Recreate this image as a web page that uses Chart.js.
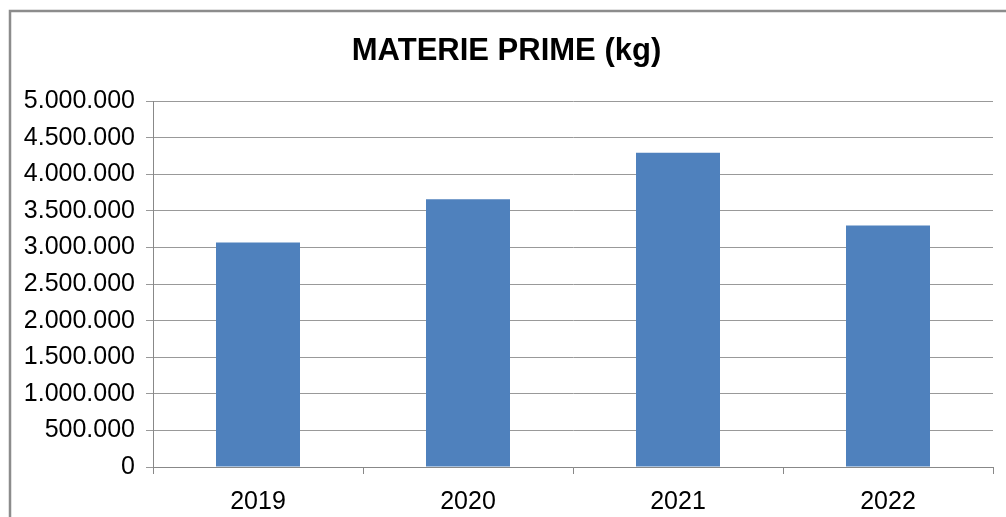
<!DOCTYPE html>
<html>
<head>
  <title>Materie prime</title>
  <script src="https://cdn.jsdelivr.net/npm/chart.js"></script>
  <style>
    body { margin: 0; background: #fff; }
    #wrap { width: 1006px; height: 517px; position: relative; }
  </style>
</head>
<body>
  <div id="wrap"><canvas id="chart"></canvas></div>

  <script>
    const years = ['2019', '2020', '2021', '2022'];
    const materiePrime = [3070000, 3660000, 4295000, 3300000];
    const yTicks = { min: 0, max: 5000000, step: 500000 };

    // thousands with dots, e.g. 5.000.000
    function dots(v) {
      return String(Math.round(v)).replace(/\B(?=(\d{3})+(?!\d))/g, '.');
    }

    // white background + grey frame on left/top like the original picture
    const frame = {
      id: 'frame',
      beforeDraw(chart) {
        const c = chart.ctx;
        c.save();
        c.fillStyle = '#fff';
        c.fillRect(0, 0, chart.width, chart.height);
        c.strokeStyle = '#8c8c8c';
        c.lineWidth = 2.5;
        c.beginPath();
        c.moveTo(10, chart.height);
        c.lineTo(10, 11);
        c.lineTo(chart.width, 11);
        c.stroke();
        c.restore();
      }
    };

    const font = "'Liberation Sans', Arial, sans-serif";

    new Chart(document.getElementById('chart'), {
      type: 'bar',
      data: {
        labels: years,
        datasets: [{
          label: 'MATERIE PRIME (kg)',
          data: materiePrime,
          backgroundColor: '#4F81BD',
          borderWidth: 0,
          barPercentage: 0.4,
          categoryPercentage: 1.0
        }]
      },
      options: {
        responsive: true,
        maintainAspectRatio: false,
        animation: false,
        layout: { padding: { top: 15, left: 20, right: 13, bottom: 0 } },
        plugins: {
          legend: { display: false },
          tooltip: { enabled: false },
          title: {
            display: true,
            text: 'MATERIE PRIME (kg)',
            color: '#000',
            font: { family: font, size: 31, weight: 'bold' },
            padding: { top: 18, bottom: 31 }
          }
        },
        scales: {
          x: {
            grid: { drawOnChartArea: false, drawTicks: true, tickLength: 7, color: '#888' },
            border: { color: '#888', width: 1 },
            ticks: { color: '#000', font: { family: font, size: 25 }, padding: 13 },
            afterFit(s) { s.height = 50; }
          },
          y: {
            min: yTicks.min,
            max: yTicks.max,
            grid: { color: '#999', lineWidth: 1, tickLength: 7 },
            border: { color: '#888', width: 1 },
            ticks: {
              stepSize: yTicks.step,
              color: '#000',
              font: { family: font, size: 25 },
              padding: 11,
              callback: v => dots(v)
            },
            afterFit(s) { s.width = 133; }
          }
        }
      },
      plugins: [frame]
    });
  </script>
</body>
</html>
